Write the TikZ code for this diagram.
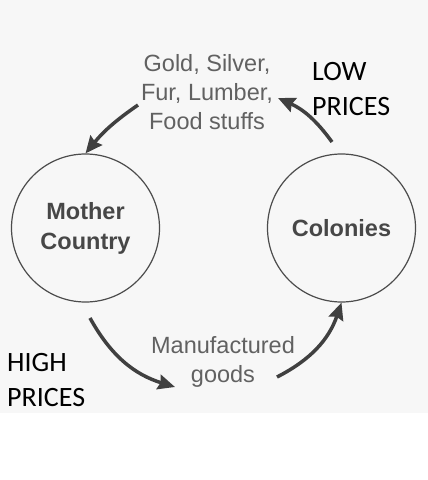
\documentclass[tikz,border=0pt]{standalone}
\usepackage{fontspec}
\setmainfont{Liberation Sans}
\newfontfamily\calibri{Carlito}
\usepackage{tikz}
\usetikzlibrary{calc}
\usetikzlibrary{arrows, arrows.meta, positioning, shapes}
\begin{document}
\begin{tikzpicture}[x=1pt, y=-1pt, node distance=256pt]

	% Define block styles
	\tikzstyle{land} = [circle, draw, line width=1.2pt, color=black!70,
	minimum size=148pt, inner sep=0pt, align=center,
	font=\bfseries\fontsize{23.5}{30}\selectfont, text=black!72]
	\tikzstyle{goods} = [inner sep=0pt, align=center,
	font=\fontsize{23.5}{29}\selectfont, text=black!62]
	\tikzstyle{price} = [inner sep=0pt, align=left, anchor=north west,
	font=\calibri\fontsize{28}{35}\selectfont, text=black]
	\tikzstyle{flow} = [draw, line width=3.5pt, color=black!75,
	-{Stealth[length=17pt, width=15pt, inset=2pt]}]

	% Background
	\useasboundingbox (0,0) rectangle (428,480);
	\fill [black!3] (0,0) rectangle (428,413);

	% Nodes
	\node [land] (mother) at (85.5,228) {Mother\\Country};
	\node [land, right of=mother] (colonies) {Colonies};
	\node [goods] (rawgoods) at (207,92) {Gold, Silver,\\Fur, Lumber,\\Food stuffs};
	\node [goods] (madegoods) at (223,362) {Manufactured\\goods};
	\node [price] (low) at (312,62) {LOW\\PRICES};
	\node [price] (high) at (7,353) {HIGH\\PRICES};

	\coordinate (rawstart) at (138,105);
	\coordinate (lowstart) at (332,142);
	\coordinate (lowtip) at (278,98);
	\coordinate (highstart) at (90,318);
	\coordinate (hightip) at (175,387);
	\coordinate (madestart) at (277,377);

	% Paths
	\path [flow] (rawstart) to[bend right=8] (mother.north);
	\path [flow] (lowstart) to[bend right=15] (lowtip);
	\path [flow] (highstart) to[bend right=22] (hightip);
	\path [flow] (madestart) to[bend right=22] (colonies.south);
\end{tikzpicture}
\end{document}
